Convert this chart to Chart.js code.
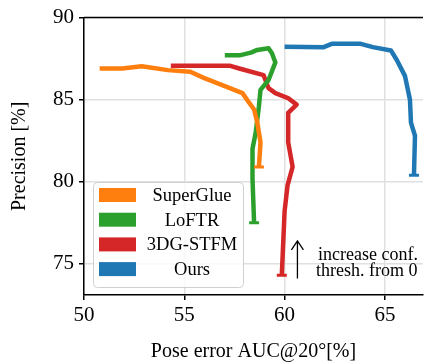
<!DOCTYPE html>
<html>
<head>
<meta charset="utf-8">
<script src="https://cdn.jsdelivr.net/npm/chart.js@4/dist/chart.umd.min.js"></script>
<style>
  html, body { margin: 0; padding: 0; background: #fff; }
  #wrap { width: 431px; height: 364px; }
</style>
</head>
<body>
<div id="wrap"><canvas id="myChart" width="431" height="364"></canvas></div>
<script>
// values
const seriesNames = ["SuperGlue", "LoFTR", "3DG-STFM", "Ours"];
const seriesColors = ["#ff7f0e", "#2ca02c", "#d62728", "#1f77b4"];

const superGlueX = [50.78, 51.9, 52.88, 54.18, 55.3, 55.97, 57.27, 57.9, 58.24, 58.48, 58.64, 58.8, 58.72];
const superGlueY = [86.9, 86.9, 87.03, 86.8, 86.7, 86.33, 85.7, 85.4, 84.8, 84.4, 83.6, 82.4, 80.9];

const loftrX = [57.02, 57.75, 58.32, 58.64, 59.2, 59.37, 59.54, 59.2, 58.8, 58.72, 58.56, 58.4, 58.4, 58.48];
const loftrY = [87.7, 87.7, 87.87, 88.03, 88.13, 87.83, 87.27, 86.2, 85.6, 84.6, 83.0, 82.0, 80.2, 77.5];

const stfmX = [54.33, 57.25, 57.74, 58.95, 59.2, 59.54, 60.17, 60.6, 60.18, 60.18, 60.4, 60.15, 60.0, 59.86];
const stfmY = [87.07, 87.07, 86.9, 86.5, 85.7, 85.4, 85.1, 84.7, 84.2, 82.4, 80.9, 79.8, 78.2, 74.3];

const oursX = [60.0, 61.95, 62.35, 63.8, 64.4, 65.3, 65.6, 66.0, 66.25, 66.3, 66.5, 66.45];
const oursY = [88.23, 88.2, 88.4, 88.4, 88.2, 88.0, 87.4, 86.45, 85.0, 83.6, 82.8, 80.4];

const xTicks = [50, 55, 60, 65];
const yTicks = [75, 80, 85, 90];

const arrowX = 60.64;
const arrowFrom = 74.1;
const arrowTo = 76.4;
const noteLines = ["increase conf.", "thresh. from 0"];

const FONT = "'Liberation Serif', 'DejaVu Serif', serif";

function toPoints(xs, ys) {
  let pts = [];
  for (let i = 0; i < xs.length; i++) {
    pts.push({x: xs[i], y: ys[i]});
  }
  return pts;
}

function capRadius(n) {
  // only the last point gets the little horizontal bar
  let r = [];
  for (let i = 0; i < n; i++) r.push(i == n - 1 ? 5 : 0);
  return r;
}

const allX = [superGlueX, loftrX, stfmX, oursX];
const allY = [superGlueY, loftrY, stfmY, oursY];

let datasets = [];
for (let s = 0; s < seriesNames.length; s++) {
  datasets.push({
    label: seriesNames[s],
    data: toPoints(allX[s], allY[s]),
    showLine: true,
    borderColor: seriesColors[s],
    backgroundColor: seriesColors[s],
    borderWidth: 4.5,
    borderJoinStyle: "round",
    borderCapStyle: "butt",
    tension: 0,
    pointStyle: "line",
    pointRadius: capRadius(allX[s].length),
    pointBorderWidth: 3,
    pointHoverRadius: 0
  });
}

// top spine, legend box and the arrow note
const extras = {
  id: "extras",
  afterDraw(chart) {
    const ctx = chart.ctx;
    const area = chart.chartArea;
    const xs = chart.scales.x;
    const ys = chart.scales.y;
    ctx.save();

    ctx.strokeStyle = "#000";
    ctx.lineWidth = 1.5;
    ctx.beginPath();
    ctx.moveTo(area.left, area.top);
    ctx.lineTo(area.right, area.top);
    ctx.stroke();

    // legend
    const bx = 93, by = 182, bw = 150, bh = 105;
    ctx.fillStyle = "rgba(255,255,255,0.8)";
    ctx.strokeStyle = "#d0d0d0";
    ctx.lineWidth = 1;
    ctx.beginPath();
    ctx.roundRect(bx + 0.5, by + 0.5, bw, bh, 4);
    ctx.fill();
    ctx.stroke();
    ctx.font = "18.5px " + FONT;
    ctx.textAlign = "center";
    ctx.textBaseline = "middle";
    for (let i = 0; i < seriesNames.length; i++) {
      const cy = 195 + i * 24.7;
      ctx.fillStyle = seriesColors[i];
      ctx.fillRect(99, cy - 7, 37, 14);
      ctx.fillStyle = "#000";
      ctx.fillText(seriesNames[i], 192, cy + 1);
    }

    // arrow
    const ax = xs.getPixelForValue(arrowX);
    const a0 = ys.getPixelForValue(arrowFrom);
    const a1 = ys.getPixelForValue(arrowTo);
    ctx.strokeStyle = "#000";
    ctx.lineWidth = 1.3;
    ctx.beginPath();
    ctx.moveTo(ax, a0);
    ctx.lineTo(ax, a1);
    ctx.moveTo(ax - 6, a1 + 9);
    ctx.quadraticCurveTo(ax - 2, a1 + 3, ax, a1);
    ctx.quadraticCurveTo(ax + 2, a1 + 3, ax + 6, a1 + 9);
    ctx.stroke();

    ctx.fillStyle = "#000";
    ctx.font = "18px " + FONT;
    ctx.textAlign = "left";
    ctx.textBaseline = "alphabetic";
    ctx.fillText(noteLines[0], 318, 260);
    ctx.fillText(noteLines[1], 316, 276);
    ctx.restore();
  }
};

const barCanvas = document.getElementById("myChart");
const myChart = new Chart(barCanvas, {
  type: "scatter",
  data: { datasets: datasets },
  options: {
    responsive: false,
    animation: false,
    events: [],
    layout: { padding: { top: 15, right: 0, left: 0, bottom: 0 } },
    plugins: {
      legend: { display: false },
      tooltip: { enabled: false }
    },
    scales: {
      x: {
        type: "linear",
        min: 50,
        max: 66.9,
        afterFit: (axis) => { axis.height = 69; },
        afterBuildTicks: (axis) => { axis.ticks = xTicks.map(v => ({value: v})); },
        ticks: {
          color: "#000",
          font: { family: FONT, size: 21 },
          padding: 3,
          maxRotation: 0
        },
        grid: {
          color: "#e0e0e0",
          lineWidth: 1.5,
          tickColor: "#000",
          tickLength: 5,
          tickWidth: 1.5
        },
        border: { color: "#000", width: 1.5 },
        title: {
          display: true,
          text: "Pose error AUC@20°[%]",
          color: "#000",
          font: { family: FONT, size: 20 },
          padding: { top: 0, bottom: 0 }
        }
      },
      y: {
        type: "linear",
        min: 73.1,
        max: 90,
        afterFit: (axis) => { axis.width = 84; },
        afterBuildTicks: (axis) => { axis.ticks = yTicks.map(v => ({value: v})); },
        ticks: {
          color: "#000",
          font: { family: FONT, size: 21 },
          padding: 5
        },
        grid: {
          color: "#e0e0e0",
          lineWidth: 1.5,
          tickColor: "#000",
          tickLength: 5,
          tickWidth: 1.5
        },
        border: { color: "#000", width: 1.5 },
        title: {
          display: true,
          text: "Precision [%]",
          color: "#000",
          font: { family: FONT, size: 20 },
          padding: { top: 8, bottom: 0 }
        }
      }
    }
  },
  plugins: [extras]
});
</script>
</body>
</html>
